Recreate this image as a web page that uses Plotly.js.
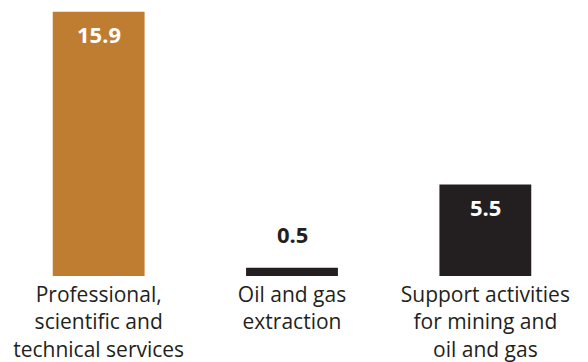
<!DOCTYPE html>
<html>
<head>
<meta charset="utf-8">
<script src="https://cdn.plot.ly/plotly-3.0.1.min.js"></script>
<style>html,body{margin:0;padding:0;background:#fff;}#chart{width:588px;height:362px;}</style>
</head>
<body>
<div id="chart"></div>
<script>
const categories = [
  "Professional,<br>scientific and<br>technical services",
  "Oil and gas<br>extraction",
  "Support activities<br>for mining and<br>oil and gas"
];
const values = [15.9, 0.5, 5.5];
const valueLabels = ["15.9", "0.5", "5.5"];
const barColors = ["#BF7D32", "#231F20", "#231F20"];

const FONT = "Open Sans, Noto Sans, sans-serif";
const annotations = categories.map((c, i) => {
  const inside = values[i] > 2;
  return {
    x: c, y: values[i], xref: "x", yref: "y",
    text: "<b>" + valueLabels[i] + "</b>",
    showarrow: false,
    xanchor: "center",
    yanchor: inside ? "top" : "bottom",
    yshift: inside ? -5 : 17,
    font: {family: FONT, size: 22, color: inside ? "#FFFFFF" : "#231F20"}
  };
});

Plotly.newPlot("chart", [{
  type: "bar",
  x: categories,
  y: values,
  width: 0.475,
  marker: {color: barColors, line: {width: 0}},
  hoverinfo: "skip"
}], {
  width: 588, height: 362,
  margin: {l: 2, r: 6, t: 10, b: 86, pad: 0},
  paper_bgcolor: "#FFFFFF", plot_bgcolor: "#FFFFFF",
  showlegend: false,
  xaxis: {
    type: "category",
    showgrid: false, zeroline: false, showline: false, ticks: "",
    ticklabelstandoff: 4,
    tickfont: {family: FONT, size: 21, color: "#231F20"},
    fixedrange: true
  },
  yaxis: {
    range: [0, 16],
    visible: false, showgrid: false, zeroline: false,
    fixedrange: true
  },
  annotations: annotations
}, {displayModeBar: false, staticPlot: true});
</script>
</body>
</html>
